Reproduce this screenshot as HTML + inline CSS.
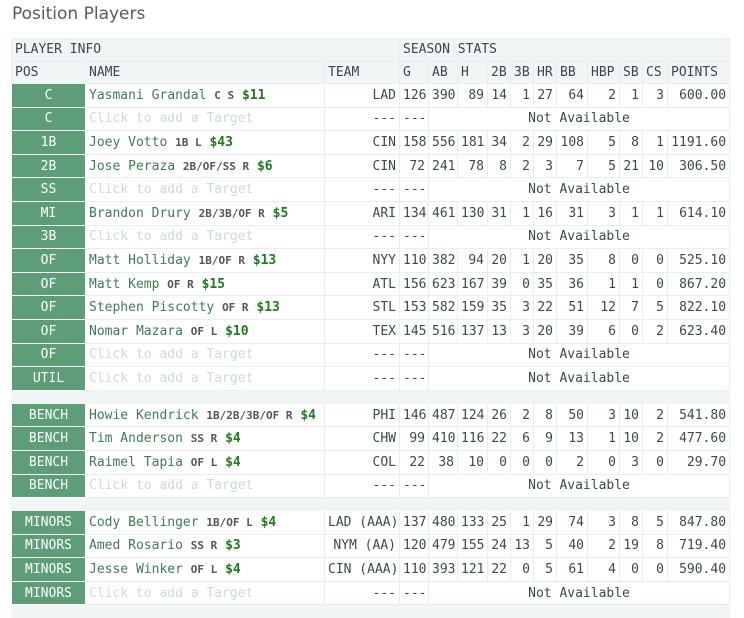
<!DOCTYPE html>
<html><head><meta charset="utf-8"><style>
body{margin:0;background:#fff;width:744px;height:616px;overflow:hidden;font-family:"DejaVu Sans Mono","Liberation Mono",monospace;}
h1{position:absolute;left:12px;top:4px;margin:0;font:17px "DejaVu Sans","Liberation Sans",sans-serif;color:#5a5a5a;}
table{position:absolute;left:11px;top:38px;width:718px;border-collapse:collapse;table-layout:fixed;font-size:13px;color:#3a4a50;}
td,th{border:1px solid #e8eeee;padding:0 3px;height:22.6px;white-space:nowrap;overflow:hidden;font-weight:normal;}
thead td{background:#f1f5f5;text-align:left;color:#3c4650;height:21.5px;}
td.pos{background:#5d9d77;color:#fff;text-align:center;border-color:#fff;}
.nm{color:#417a55}
.tg{font-size:11px;font-weight:bold;color:#555}
.pr{font-weight:bold;color:#1f7a1f}
.ph{color:#cddbd5}
.r{text-align:right}
.c{text-align:center}
tr.sp td{background:#f1f5f5;height:12px;border-color:#f1f5f5}
</style></head><body>
<h1>Position Players</h1>
<table>
<colgroup><col style="width:74px"><col style="width:239px"><col style="width:75px"><col style="width:29px"><col style="width:29px"><col style="width:30px"><col style="width:23px"><col style="width:23px"><col style="width:23px"><col style="width:31px"><col style="width:32px"><col style="width:23px"><col style="width:25px"><col style="width:62px"></colgroup>
<thead>
<tr><td colspan="3">PLAYER INFO</td><td colspan="11">SEASON STATS</td></tr>
<tr><td>POS</td><td>NAME</td><td>TEAM</td><td>G</td><td>AB</td><td>H</td><td>2B</td><td>3B</td><td>HR</td><td>BB</td><td>HBP</td><td>SB</td><td>CS</td><td>POINTS</td></tr>
</thead>
<tbody id="tb"></tbody>
</table>
<script>
const rows=[
["C","Yasmani Grandal","C S","$11","LAD",[126,390,89,14,1,27,64,2,1,3,"600.00"]],
["C"],
["1B","Joey Votto","1B L","$43","CIN",[158,556,181,34,2,29,108,5,8,1,"1191.60"]],
["2B","Jose Peraza","2B/OF/SS R","$6","CIN",[72,241,78,8,2,3,7,5,21,10,"306.50"]],
["SS"],
["MI","Brandon Drury","2B/3B/OF R","$5","ARI",[134,461,130,31,1,16,31,3,1,1,"614.10"]],
["3B"],
["OF","Matt Holliday","1B/OF R","$13","NYY",[110,382,94,20,1,20,35,8,0,0,"525.10"]],
["OF","Matt Kemp","OF R","$15","ATL",[156,623,167,39,0,35,36,1,1,0,"867.20"]],
["OF","Stephen Piscotty","OF R","$13","STL",[153,582,159,35,3,22,51,12,7,5,"822.10"]],
["OF","Nomar Mazara","OF L","$10","TEX",[145,516,137,13,3,20,39,6,0,2,"623.40"]],
["OF"],["UTIL"],"sp",
["BENCH","Howie Kendrick","1B/2B/3B/OF R","$4","PHI",[146,487,124,26,2,8,50,3,10,2,"541.80"]],
["BENCH","Tim Anderson","SS R","$4","CHW",[99,410,116,22,6,9,13,1,10,2,"477.60"]],
["BENCH","Raimel Tapia","OF L","$4","COL",[22,38,10,0,0,0,2,0,3,0,"29.70"]],
["BENCH"],"sp",
["MINORS","Cody Bellinger","1B/OF L","$4","LAD (AAA)",[137,480,133,25,1,29,74,3,8,5,"847.80"]],
["MINORS","Amed Rosario","SS R","$3","NYM (AA)",[120,479,155,24,13,5,40,2,19,8,"719.40"]],
["MINORS","Jesse Winker","OF L","$4","CIN (AAA)",[110,393,121,22,0,5,61,4,0,0,"590.40"]],
["MINORS"],"sp"];
const tb=document.getElementById('tb');let h='';
rows.forEach((r,i)=>{
 if(r==="sp"){h+='<tr class="sp"><td colspan="14"></td></tr>';return;}
 h+='<tr><td class="pos">'+r[0]+'</td>';
 if(r.length>1){
  h+='<td><span class="nm">'+r[1]+'</span> <span class="tg">'+r[2]+'</span> <span class="pr">'+r[3]+'</span></td><td class="r">'+r[4]+'</td>';
  r[5].forEach(v=>h+='<td class="r">'+v+'</td>');
 } else {
  h+='<td class="ph">Click to add a Target</td><td class="r">---</td><td>---</td><td colspan="10" class="c">Not Available</td>';
 }
 h+='</tr>';
});
tb.innerHTML=h;
</script>
</body></html>
